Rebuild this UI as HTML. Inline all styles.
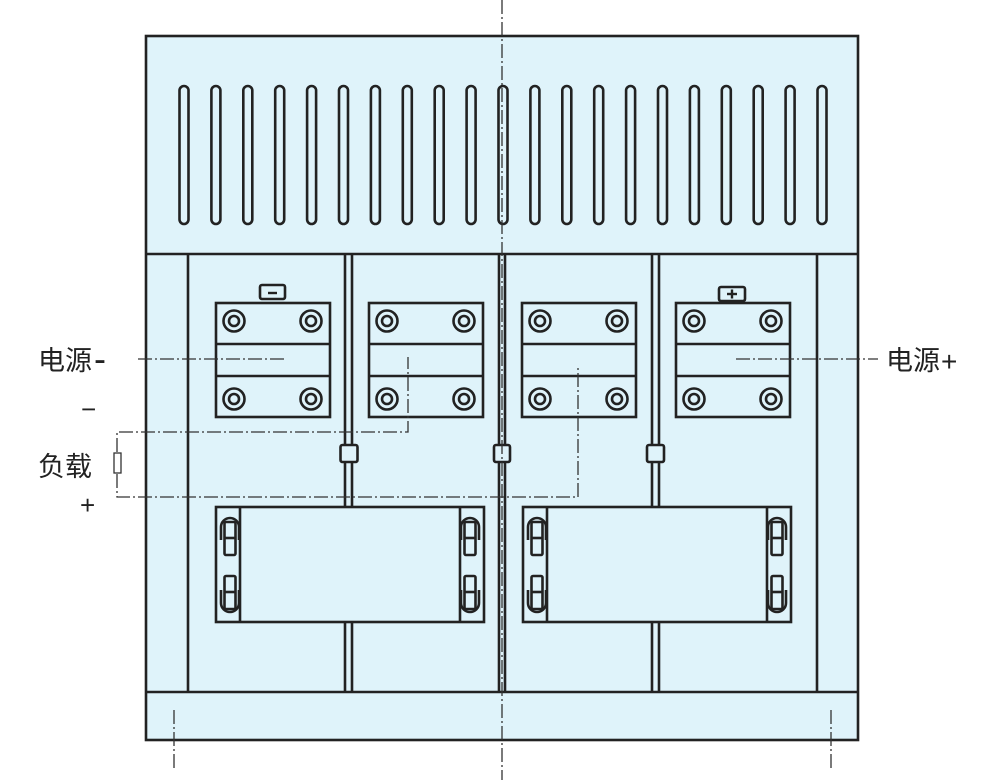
<!DOCTYPE html>
<html><head><meta charset="utf-8"><style>
html,body{margin:0;padding:0;background:#fff;}
svg{display:block;}
text{font-family:"Liberation Sans","Noto Sans CJK SC",sans-serif;fill:#222;}
</style></head><body>
<svg id="s" width="992" height="780" viewBox="0 0 992 780" xmlns="http://www.w3.org/2000/svg">
<g fill="#dff3fa" stroke="#222" stroke-width="2.6">
<rect x="146" y="36" width="712" height="704"/>
<line x1="146" y1="254" x2="858" y2="254"/>
<line x1="146" y1="692" x2="858" y2="692"/>
<line x1="188" y1="254" x2="188" y2="692"/>
<line x1="817" y1="254" x2="817" y2="692"/>
<line x1="345" y1="254" x2="345" y2="692"/><line x1="352" y1="254" x2="352" y2="692"/>
<line x1="499" y1="254" x2="499" y2="692"/><line x1="505" y1="254" x2="505" y2="692"/>
<line x1="652" y1="254" x2="652" y2="692"/><line x1="659" y1="254" x2="659" y2="692"/>
<rect x="340.5" y="445" width="17" height="17" rx="2"/>
<rect x="494" y="445" width="16" height="17" rx="2"/>
<rect x="647" y="445" width="17" height="17" rx="2"/>
<rect x="260" y="285" width="25" height="14" rx="2"/>
<rect x="719" y="287" width="26" height="14" rx="2"/>
</g>
<g id="dyn" fill="none" stroke="#222" stroke-width="2.6"></g>
<line x1="268" y1="293" x2="277" y2="293" stroke="#222" stroke-width="2.4"/>
<line x1="727" y1="294" x2="737" y2="294" stroke="#222" stroke-width="2.4"/>
<line x1="732" y1="289.5" x2="732" y2="298.5" stroke="#222" stroke-width="2.4"/>
<g fill="none" stroke="#333" stroke-width="1.3" stroke-dasharray="14,3,2,3">
<line x1="502" y1="0" x2="502" y2="780"/>
<line x1="174" y1="710" x2="174" y2="770"/>
<line x1="831" y1="710" x2="831" y2="770"/>
<line x1="138" y1="359" x2="285" y2="359"/>
<line x1="736" y1="359" x2="878" y2="359"/>
<polyline points="117,452 117,432 408,432 408,357"/>
<polyline points="117,474 117,497 578,497 578,366"/>
</g>
<rect x="114" y="453" width="7" height="20" fill="#fff" stroke="#333" stroke-width="1.3"/>
<text x="38" y="370" font-size="27">电源</text>
<text x="94" y="371" font-size="36">-</text>
<text x="81" y="418" font-size="26">−</text>
<text x="38" y="476" font-size="27">负载</text>
<text x="80" y="514" font-size="26">+</text>
<text x="886" y="370" font-size="27">电源</text>
<text x="941" y="371" font-size="28">+</text>
</svg>
<script>
var g=document.getElementById('dyn'),h='';
for(var i=0;i<21;i++){var x=179.5+i*31.9;h+='<rect x="'+x+'" y="86" width="9" height="138" rx="4.5"/>';}
[216,369,522,676].forEach(function(x){
h+='<rect x="'+x+'" y="303" width="114" height="114" fill="#dff3fa"/>';
h+='<line x1="'+x+'" y1="344" x2="'+(x+114)+'" y2="344"/><line x1="'+x+'" y1="376" x2="'+(x+114)+'" y2="376"/>';
[[18,18],[95,18],[18,96],[95,96]].forEach(function(p){
h+='<circle cx="'+(x+p[0])+'" cy="'+(303+p[1])+'" r="10.5"/><circle cx="'+(x+p[0])+'" cy="'+(303+p[1])+'" r="5"/>';});
});
[216,523].forEach(function(x){
h+='<rect x="'+x+'" y="507" width="268" height="115" fill="#dff3fa"/>';
h+='<line x1="'+(x+24)+'" y1="507" x2="'+(x+24)+'" y2="622"/><line x1="'+(x+244)+'" y1="507" x2="'+(x+244)+'" y2="622"/>';
[x+14,x+254].forEach(function(c){
h+='<path d="M'+(c-9)+' 540 L'+(c-9)+' 527 A9 9 0 0 1 '+(c+9)+' 527 L'+(c+9)+' 540"/>';
h+='<rect x="'+(c-5.5)+'" y="522" width="11" height="33" rx="1.5" fill="#dff3fa"/><line x1="'+(c-5.5)+'" y1="538" x2="'+(c+5.5)+'" y2="538"/>';
h+='<path d="M'+(c-9)+' 590 L'+(c-9)+' 603 A9 9 0 0 0 '+(c+9)+' 603 L'+(c+9)+' 590"/>';
h+='<rect x="'+(c-5.5)+'" y="576" width="11" height="33" rx="1.5" fill="#dff3fa"/><line x1="'+(c-5.5)+'" y1="592" x2="'+(c+5.5)+'" y2="592"/>';
});
});
g.innerHTML=h;
</script>
</body></html>
